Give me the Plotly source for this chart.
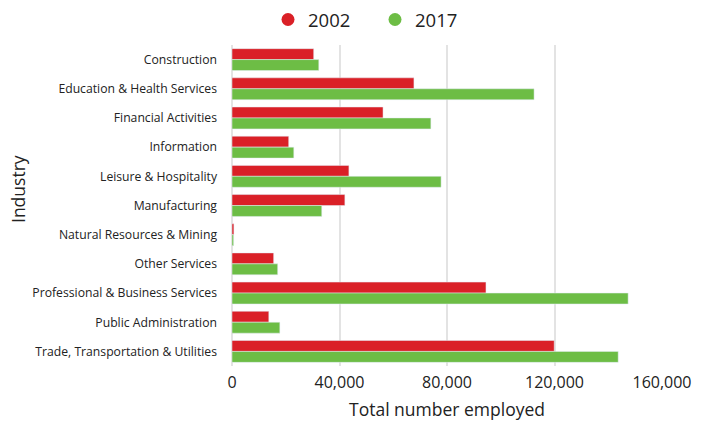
import plotly.graph_objects as go

industries = [
    "Construction",
    "Education & Health Services",
    "Financial Activities",
    "Information",
    "Leisure & Hospitality",
    "Manufacturing",
    "Natural Resources & Mining",
    "Other Services",
    "Professional & Business Services",
    "Public Administration",
    "Trade, Transportation & Utilities",
]
emp_2002 = [30400, 67700, 56200, 21100, 43500, 42000, 700, 15500, 94500, 13700, 119900]
emp_2017 = [32300, 112400, 74000, 23000, 77800, 33400, 600, 17000, 147400, 17800, 143700]
x_ticks = [0, 40000, 80000, 120000, 160000]
x_tick_text = ["0", "40,000", "80,000", "120,000", "160,000"]

RED = "#DA2027"
GREEN = "#6DBD45"
FONT = "Open Sans"
TXT = "#222222"

fig = go.Figure()
fig.add_trace(go.Bar(y=industries, x=emp_2002, orientation="h", name="2002",
                     marker_color=RED, showlegend=False))
fig.add_trace(go.Bar(y=industries, x=emp_2017, orientation="h", name="2017",
                     marker_color=GREEN, showlegend=False))
# legend entries with circle markers
fig.add_trace(go.Scatter(x=[None], y=[None], mode="markers", name="2002",
                         marker=dict(color=RED, size=13, symbol="circle")))
fig.add_trace(go.Scatter(x=[None], y=[None], mode="markers", name="2017",
                         marker=dict(color=GREEN, size=13, symbol="circle")))

OFF = 8  # page body margin offset
W, H = 710, 421
L, T = 232 - OFF, 45 - OFF
R = W - (662 - OFF)
B = H - (366 - OFF)
pw = W - L - R
ph = H - T - B


def px_x(x):
    return (x - OFF - L) / pw


def px_y(y):
    return 1 - (y - OFF - T) / ph


fig.update_layout(
    width=W, height=H,
    margin=dict(l=L, r=R, t=T, b=B, autoexpand=False),
    paper_bgcolor="white", plot_bgcolor="white",
    barmode="group", bargap=0.25, bargroupgap=0,
    font=dict(family=FONT, color=TXT),
    legend=dict(orientation="h", x=px_x(268), xanchor="left",
                y=px_y(20), yanchor="middle",
                font=dict(size=18.5, color=TXT), itemwidth=30,
                entrywidthmode="pixels", entrywidth=62),
    xaxis=dict(range=[0, 160000], tickvals=x_ticks, ticktext=x_tick_text,
               showgrid=True, gridcolor="#e3e3e3", gridwidth=2,
               zeroline=True, zerolinecolor="#e3e3e3", zerolinewidth=2,
               showline=False, ticks="", tickfont=dict(size=16, color=TXT),
               automargin=False, ticklabelstandoff=5),
    yaxis=dict(autorange="reversed", showgrid=False, ticks="",
               tickfont=dict(size=12.2, color=TXT), categoryorder="array",
               categoryarray=industries, automargin=False, ticklabelstandoff=14),
    annotations=[
        dict(text="Total number employed", x=px_x(447), y=px_y(409),
             xref="paper", yref="paper", xanchor="center", yanchor="middle",
             showarrow=False, font=dict(size=17.5, color=TXT)),
        dict(text="Industry", x=px_x(18), y=px_y(189),
             xref="paper", yref="paper", xanchor="center", yanchor="middle",
             showarrow=False, textangle=-90, font=dict(size=17.5, color=TXT)),
    ],
)

fig.write_html("out.html")
